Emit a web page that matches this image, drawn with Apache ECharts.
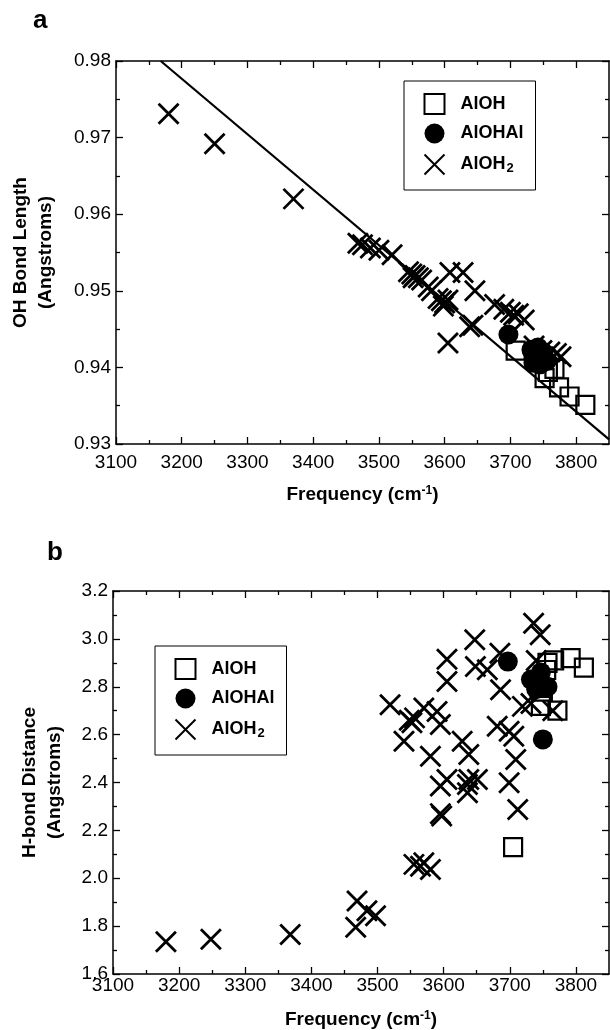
<!DOCTYPE html>
<html>
<head>
<meta charset="utf-8">
<script src="https://cdn.jsdelivr.net/npm/echarts@6/dist/echarts.min.js"></script>
<style>
html,body{margin:0;padding:0;background:#fff;}
#chart{width:610px;height:1030px;}
</style>
</head>
<body>
<div id="chart"></div>
<script>
// ---------- data ----------
const seriesNames = ['AlOH', 'AlOHAl', 'AlOH2'];

// Panel a: OH bond length (Angstroms) vs frequency (cm-1)
const aAlOH = [[3708,0.9422],[3752,0.9386],[3757,0.9394],[3767,0.9398],[3774,0.9374],[3790,0.9362],[3814,0.9351]];
const aAlOHAl = [[3697,0.9443],[3732,0.9423],[3740,0.9413],[3745,0.9404],[3755,0.9408],[3735,0.9406],[3750,0.9419],[3742,0.9426]];
const aAlOH2 = [[3180,0.9731],[3250,0.9692],[3370,0.9620],
  [3468,0.9562],[3475,0.9560],[3487,0.9556],[3500,0.9553],[3520,0.9547],
  [3545,0.9525],[3550,0.9522],[3555,0.9520],[3560,0.9517],[3565,0.9514],[3552,0.9517],
  [3575,0.9505],[3580,0.9500],[3590,0.9490],[3595,0.9487],[3600,0.9484],[3605,0.9488],[3598,0.9480],
  [3608,0.9524],[3628,0.9524],[3646,0.9500],
  [3605,0.9432],[3638,0.9453],[3643,0.9455],
  [3676,0.9482],[3690,0.9476],[3700,0.9472],[3712,0.9470],[3721,0.9462],[3705,0.9468],
  [3736,0.9428],[3748,0.9422],[3760,0.9420],[3770,0.9418],[3777,0.9414],[3740,0.9412]];
const aFitLine = [[3168,0.9800],[3850,0.9306]];

// Panel b: H-bond distance (Angstroms) vs frequency (cm-1)
const bAlOH = [[3705,2.13],[3747,2.72],[3757,2.90],[3767,2.91],[3772,2.70],[3792,2.92],[3812,2.88],[3750,2.78],[3755,2.87]];
const bAlOHAl = [[3697,2.905],[3732,2.83],[3744,2.82],[3747,2.86],[3757,2.80],[3750,2.58],[3740,2.79]];
const bAlOH2 = [[3180,1.735],[3248,1.745],[3368,1.765],
  [3467,1.795],[3469,1.905],[3484,1.864],[3497,1.843],
  [3555,2.058],[3565,2.05],[3570,2.065],[3580,2.037],
  [3519,2.725],[3540,2.572],[3548,2.66],[3552,2.65],[3556,2.67],[3570,2.711],[3590,2.697],[3595,2.642],[3580,2.51],
  [3595,2.385],[3605,2.4125],[3595,2.27],[3597,2.26],
  [3605,2.915],[3605,2.822],[3628,2.572],[3638,2.517],[3636,2.392],[3636,2.357],[3651,2.4125],[3638,2.4125],
  [3647,2.996],[3648,2.885],[3666,2.871],[3685,2.94],[3686,2.7875],[3681,2.635],[3699,2.614],[3706,2.593],[3709,2.496],[3719,2.718],[3699,2.399],[3712,2.2875],
  [3736,3.065],[3746,3.017],[3740,2.91],[3732,2.73],[3765,2.70]];

// ticks
const freqMajor = [3100,3200,3300,3400,3500,3600,3700,3800];
const freqMinor = [3150,3250,3350,3450,3550,3650,3750];
const aMajor = [0.93,0.94,0.95,0.96,0.97,0.98];
const aMinor = [0.935,0.945,0.955,0.965,0.975];
const bMajor = [1.6,1.8,2.0,2.2,2.4,2.6,2.8,3.0,3.2];
const bMinor = [1.7,1.9,2.1,2.3,2.5,2.7,2.9,3.1];

// ---------- styles ----------
const FONT = 'Liberation Sans, Arial, Helvetica, sans-serif';
const crossPath = 'path://M0,0L20,20M20,0L0,20';

function xAx(grid, pos, ticks, len, label, margin, name, nameGap) {
  return {
    type: 'value', gridIndex: grid, position: pos, min: 3100, max: 3850,
    axisLine: {show: true, onZero: false, lineStyle: {color: '#000', width: 1.5}},
    axisTick: {show: true, inside: true, length: len, customValues: ticks, lineStyle: {color: '#000', width: 1.3}},
    axisLabel: label ? {show: true, customValues: ticks, margin: margin, color: '#000', fontSize: 19, fontFamily: FONT,
      formatter: v => String(Math.round(v))} : {show: false},
    splitLine: {show: false},
    name: name || '', nameLocation: 'middle', nameGap: nameGap || 0,
    nameTextStyle: {color: '#000', fontSize: 19, fontWeight: 'bold', fontFamily: FONT,
      rich: {sup: {fontSize: 12, fontWeight: 'bold', fontFamily: FONT, verticalAlign: 'top', lineHeight: 14}}}
  };
}
function yAx(grid, pos, min, max, ticks, len, label, dec, name, nameGap) {
  return {
    type: 'value', gridIndex: grid, position: pos, min: min, max: max,
    axisLine: {show: true, onZero: false, lineStyle: {color: '#000', width: 1.5}},
    axisTick: {show: true, inside: true, length: len, customValues: ticks, lineStyle: {color: '#000', width: 1.3}},
    axisLabel: label ? {show: true, customValues: ticks, margin: 5, color: '#000', fontSize: 19, fontFamily: FONT,
      formatter: v => Number(v).toFixed(dec)} : {show: false},
    splitLine: {show: false},
    name: name || '', nameLocation: 'middle', nameGap: nameGap || 0, nameRotate: 90,
    nameTextStyle: {color: '#000', fontSize: 19, fontWeight: 'bold', fontFamily: FONT, lineHeight: 25}
  };
}

const xName = 'Frequency (cm{sup|-1})';
const xAxes = [
  xAx(0, 'bottom', freqMajor, 7, true, 9, xName, 41),
  xAx(0, 'bottom', freqMinor, 4, false),
  xAx(0, 'top', freqMajor, 7, false),
  xAx(0, 'top', freqMinor, 4, false),
  xAx(1, 'bottom', freqMajor, 7, true, 2, xName, 36),
  xAx(1, 'bottom', freqMinor, 4, false),
  xAx(1, 'top', freqMajor, 7, false),
  xAx(1, 'top', freqMinor, 4, false)
];
const yAxes = [
  yAx(0, 'left', 0.93, 0.98, aMajor, 7, true, 2, 'OH Bond Length\n(Angstroms)', 58),
  yAx(0, 'left', 0.93, 0.98, aMinor, 4, false),
  yAx(0, 'right', 0.93, 0.98, aMajor, 7, false),
  yAx(0, 'right', 0.93, 0.98, aMinor, 4, false),
  yAx(1, 'left', 1.6, 3.2, bMajor, 7, true, 1, 'H-bond Distance\n(Angstroms)', 46),
  yAx(1, 'left', 1.6, 3.2, bMinor, 4, false),
  yAx(1, 'right', 1.6, 3.2, bMajor, 7, false),
  yAx(1, 'right', 1.6, 3.2, bMinor, 4, false)
];
// minor-tick duplicates carry no axis line
xAxes.forEach((a, i) => { a.axisLine.show = (i % 2 === 0); });
yAxes.forEach((a, i) => { a.axisLine.show = (i % 2 === 0); });

const squareStyle = {symbol: 'rect', symbolSize: 18, itemStyle: {color: 'rgba(0,0,0,0)', borderColor: '#000', borderWidth: 2.2, opacity: 1}};
const circleStyle = {symbol: 'circle', symbolSize: 20, itemStyle: {color: '#000', borderColor: '#000', borderWidth: 0, opacity: 1}};
const crossStyle = {symbol: crossPath, symbolSize: 20, itemStyle: {color: 'none', borderColor: '#000', borderWidth: 2.8, opacity: 1}};

function sc(name, data, style, ax) {
  return Object.assign({type: 'scatter', name: name, data: data, xAxisIndex: ax, yAxisIndex: ax, silent: true}, JSON.parse(JSON.stringify(style)));
}

const legendBase = {
  orient: 'vertical', data: seriesNames, selectedMode: false,
  itemWidth: 20, itemHeight: 20, itemGap: 8.5,
  padding: [12, 12, 13, 18],
  borderColor: '#000', borderWidth: 1,
  formatter: n => n === 'AlOH2' ? 'AlOH{sub|2}' : n,
  textStyle: {color: '#000', fontSize: 18, fontWeight: 'bold', fontFamily: FONT, lineHeight: 20, padding: [0, 0, 0, 11],
    rich: {sub: {fontSize: 13, fontWeight: 'bold', fontFamily: FONT, verticalAlign: 'bottom', lineHeight: 12, padding: [0, 0, 0, 1]}}}
};

const option = {
  animation: false,
  backgroundColor: '#fff',
  grid: [
    {left: 113, top: 61, width: 496, height: 383, show: false},
    {left: 113, top: 591, width: 496, height: 384, show: false}
  ],
  xAxis: xAxes,
  yAxis: yAxes,
  legend: [
    Object.assign({left: 404, top: 81}, legendBase),
    Object.assign({left: 155, top: 646}, legendBase)
  ],
  graphic: [
    {type: 'text', left: 33, top: 8, style: {text: 'a', font: 'bold 26px ' + FONT, fill: '#000'}},
    {type: 'text', left: 47, top: 540, style: {text: 'b', font: 'bold 26px ' + FONT, fill: '#000'}}
  ],
  series: [
    {type: 'line', name: 'fit', data: aFitLine, xAxisIndex: 0, yAxisIndex: 0, symbol: 'none', silent: true,
      lineStyle: {color: '#000', width: 2.2}, z: 1},
    sc('AlOH', aAlOH, squareStyle, 0),
    sc('AlOHAl', aAlOHAl, circleStyle, 0),
    sc('AlOH2', aAlOH2, crossStyle, 0),
    sc('AlOH', bAlOH, squareStyle, 4),
    sc('AlOHAl', bAlOHAl, circleStyle, 4),
    sc('AlOH2', bAlOH2, crossStyle, 4)
  ]
};

const chart = echarts.init(document.getElementById('chart'), null, {renderer: 'canvas'});
chart.setOption(option);
</script>
</body>
</html>
